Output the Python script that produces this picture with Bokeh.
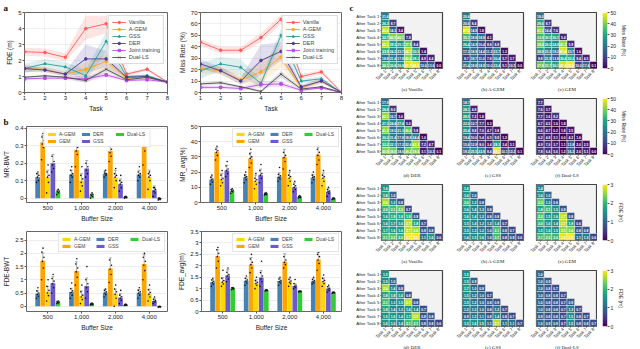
import math
import numpy as np
from bokeh.plotting import figure
from bokeh.layouts import row, column
from bokeh.models import (ColumnDataSource, Whisker, TeeHead, Legend, LegendItem,
                          FixedTicker, Range1d, FactorRange, LinearColorMapper)
from bokeh.core.properties import value
from bokeh.transform import dodge
from bokeh.palettes import Viridis256
from bokeh.embed import file_html
from bokeh.resources import INLINE

SANS = "Liberation Sans"
SERIF = "Liberation Serif"

# ---------------- panel a data ----------------
tasks = [1, 2, 3, 4, 5, 6, 7, 8]
a_methods = ["Vanilla", "A-GEM", "GSS", "DER", "Joint training", "Dual-LS"]
a_colors = ["#ff5a5a", "#ffa31a", "#2a9d96", "#463a9a", "#b84de8", "#4d4d4d"]
a_markers = ["circle", "circle", "triangle", "circle", "square", "x"]

fde_mean = {
    "Vanilla": [2.55, 2.5, 2.2, 4.0, 4.3, 1.15, 1.45, 0.65],
    "A-GEM": [1.5, 1.45, 1.15, 1.45, 1.95, 0.9, 0.95, 0.65],
    "GSS": [1.5, 1.8, 1.6, 1.05, 3.2, 1.0, 1.05, 0.65],
    "DER": [1.5, 1.4, 1.15, 2.1, 2.1, 0.95, 1.0, 0.65],
    "Joint training": [0.85, 0.9, 0.9, 0.85, 1.1, 0.75, 0.8, 0.65],
    "Dual-LS": [0.95, 1.05, 0.95, 0.75, 1.45, 0.8, 0.95, 0.65],
}
fde_lo = {
    "Vanilla": [2.3, 2.25, 1.95, 3.3, 3.7, 1.05, 1.35, 0.6],
    "A-GEM": [1.3, 1.3, 1.0, 1.0, 1.5, 0.8, 0.85, 0.6],
    "GSS": [1.2, 1.5, 1.3, 0.7, 2.6, 0.9, 0.95, 0.6],
    "DER": [1.3, 1.25, 1.0, 1.2, 1.6, 0.85, 0.9, 0.6],
    "Joint training": [0.75, 0.8, 0.8, 0.65, 0.95, 0.7, 0.7, 0.6],
    "Dual-LS": [0.9, 1.0, 0.9, 0.6, 1.3, 0.75, 0.9, 0.6],
}
fde_hi = {
    "Vanilla": [2.8, 2.75, 2.45, 4.8, 4.8, 1.25, 1.55, 0.7],
    "A-GEM": [1.7, 1.6, 1.3, 1.9, 2.4, 1.0, 1.05, 0.7],
    "GSS": [1.8, 2.1, 1.9, 1.4, 3.8, 1.1, 1.15, 0.7],
    "DER": [1.7, 1.55, 1.3, 3.0, 2.6, 1.05, 1.1, 0.7],
    "Joint training": [0.95, 1.0, 1.0, 1.05, 1.25, 0.8, 0.9, 0.7],
    "Dual-LS": [1.0, 1.1, 1.0, 0.9, 1.6, 0.85, 1.0, 0.7],
}
mr_mean = {
    "Vanilla": [44, 37, 37, 48, 64, 14, 18, 0.3],
    "A-GEM": [21, 19, 11, 18, 31, 4, 10, 0],
    "GSS": [19, 25, 22, 8, 50, 10, 12, 0],
    "DER": [25, 19, 10, 28, 36, 5, 10, 0],
    "Joint training": [4.5, 4.5, 3.5, 7, 7.5, 2, 4, 0],
    "Dual-LS": [7.5, 8.5, 5, 1, 16, 3, 5, 0],
}
mr_lo = {
    "Vanilla": [41, 34, 34, 44, 60, 12, 16, 0],
    "A-GEM": [17, 16, 7, 8, 22, 2, 8, 0],
    "GSS": [12, 19, 15, 4, 44, 8, 10, 0],
    "DER": [21, 16, 7, 15, 28, 3, 8, 0],
    "Joint training": [3, 3, 2, 4, 5, 1, 3, 0],
    "Dual-LS": [6, 7, 4, 0, 13, 2, 4, 0],
}
mr_hi = {
    "Vanilla": [47, 40, 40, 52, 68, 16, 20, 0.6],
    "A-GEM": [25, 22, 15, 28, 40, 6, 12, 0.5],
    "GSS": [26, 31, 29, 12, 56, 12, 14, 0.5],
    "DER": [29, 22, 13, 42, 44, 7, 12, 0.5],
    "Joint training": [6, 6, 5, 10, 10, 3, 5, 0.5],
    "Dual-LS": [9, 10, 6, 2, 19, 4, 6, 0.5],
}

# ---------------- panel b data ----------------
buffers = ["500", "1,000", "2,000", "4,000"]
b_methods = ["DER", "GEM", "A-GEM", "GSS", "Dual-LS"]
b_colors = {"DER": "#4682b4", "GEM": "#ffa500", "A-GEM": "#ffd700", "GSS": "#6a5acd", "Dual-LS": "#32cd32"}
legend_order = ["A-GEM", "GEM", "DER", "GSS", "Dual-LS"]

mrbwt_mean = {"DER": [0.12, 0.135, 0.14, 0.135], "GEM": [0.32, 0.275, 0.27, 0.305],
              "A-GEM": [0.12, 0.10, 0.12, 0.12], "GSS": [0.20, 0.17, 0.08, 0.045],
              "Dual-LS": [0.035, 0.015, 0.005, -0.005]}
mrbwt_sd = {"DER": [0.02, 0.025, 0.02, 0.025], "GEM": [0.04, 0.045, 0.055, 0.06],
            "A-GEM": [0.04, 0.04, 0.04, 0.04], "GSS": [0.05, 0.045, 0.03, 0.025],
            "Dual-LS": [0.012, 0.01, 0.005, 0.005]}
mrbwt_runs = {
    "DER": [[0.09, 0.10, 0.12, 0.13, 0.14, 0.15], [0.09, 0.12, 0.13, 0.14, 0.16, 0.18],
            [0.12, 0.13, 0.14, 0.14, 0.15, 0.16], [0.10, 0.12, 0.13, 0.14, 0.15, 0.18]],
    "GEM": [[0.22, 0.29, 0.31, 0.33, 0.35, 0.37], [0.18, 0.25, 0.27, 0.29, 0.31, 0.33],
            [0.21, 0.24, 0.26, 0.28, 0.30, 0.33], [0.19, 0.27, 0.30, 0.32, 0.35, 0.39]],
    "A-GEM": [[0.03, 0.09, 0.12, 0.13, 0.15, 0.19], [0.04, 0.07, 0.09, 0.11, 0.13, 0.18],
              [0.06, 0.10, 0.12, 0.13, 0.14, 0.17], [0.05, 0.10, 0.12, 0.13, 0.14, 0.15]],
    "GSS": [[0.15, 0.17, 0.19, 0.21, 0.24, 0.31], [0.12, 0.14, 0.16, 0.18, 0.20, 0.31],
            [0.04, 0.06, 0.08, 0.09, 0.10, 0.13], [0.01, 0.03, 0.04, 0.05, 0.06, 0.06]],
    "Dual-LS": [[0.02, 0.03, 0.035, 0.04, 0.04, 0.05], [0.0, 0.01, 0.015, 0.02, 0.02, 0.03],
                [0.0, 0.003, 0.005, 0.006, 0.008, 0.01], [-0.01, -0.008, -0.005, -0.004, 0.0, 0.0]],
}
mravg_mean = {"DER": [15, 16.5, 17, 16.5], "GEM": [33, 29, 30, 31.5],
              "A-GEM": [15.5, 14, 16, 16], "GSS": [21, 18, 10, 7],
              "Dual-LS": [7.5, 5.5, 3.5, 2.5]}
mravg_sd = {"DER": [2, 2, 2.5, 2], "GEM": [3, 4, 5, 5], "A-GEM": [3.5, 4, 4, 3.5],
            "GSS": [3.5, 4, 3, 2.5], "Dual-LS": [1, 0.7, 0.5, 0.5]}
mravg_runs = {
    "DER": [[12, 13.5, 15, 15.5, 16.5, 18], [13, 15, 16.5, 17, 18, 20],
            [14, 15.5, 16.5, 17.5, 18.5, 23], [13, 15, 16.5, 17, 18, 20]],
    "GEM": [[28, 31, 33, 34, 35, 37], [23, 26, 29, 30, 32, 35],
            [22, 27, 29.5, 31, 33, 37], [25, 28, 31, 33, 35, 38]],
    "A-GEM": [[11, 13, 15, 16, 18, 21], [9, 12, 14, 15, 16, 19],
              [11, 14, 16, 17, 18, 21], [11, 14, 16, 17, 18, 21]],
    "GSS": [[17, 19, 21, 22, 24, 27], [13, 16, 18, 19, 21, 25],
            [7, 8.5, 10, 11, 12, 14], [4, 6, 7, 7.5, 8.5, 10]],
    "Dual-LS": [[6, 7, 7.5, 8, 8.5, 9], [5, 5.2, 5.5, 5.7, 6, 6.5],
                [3, 3.2, 3.5, 3.7, 4, 4.5], [2, 2.3, 2.5, 2.6, 2.8, 3]],
}
fdebwt_mean = {"DER": [0.47, 0.54, 0.52, 0.51], "GEM": [1.72, 1.33, 1.43, 1.60],
               "A-GEM": [0.55, 0.38, 0.47, 0.47], "GSS": [0.87, 0.77, 0.32, 0.20],
               "Dual-LS": [0.15, 0.08, 0.05, -0.02]}
fdebwt_sd = {"DER": [0.12, 0.14, 0.12, 0.12], "GEM": [0.3, 0.35, 0.4, 0.35],
             "A-GEM": [0.2, 0.2, 0.18, 0.18], "GSS": [0.25, 0.3, 0.15, 0.1],
             "Dual-LS": [0.04, 0.03, 0.02, 0.02]}
fdebwt_runs = {
    "DER": [[0.30, 0.38, 0.45, 0.50, 0.58, 0.70], [0.30, 0.42, 0.52, 0.58, 0.66, 0.88],
            [0.35, 0.44, 0.50, 0.55, 0.60, 0.65], [0.30, 0.42, 0.50, 0.55, 0.60, 0.70]],
    "GEM": [[1.00, 1.45, 1.70, 1.85, 2.05, 2.20], [0.80, 1.10, 1.30, 1.45, 1.60, 1.80],
            [0.90, 1.20, 1.40, 1.55, 1.75, 2.10], [1.00, 1.35, 1.55, 1.70, 1.85, 2.00]],
    "A-GEM": [[0.20, 0.40, 0.50, 0.60, 0.75, 1.00], [0.10, 0.25, 0.35, 0.42, 0.55, 0.80],
              [0.00, 0.30, 0.45, 0.55, 0.65, 0.80], [0.20, 0.35, 0.45, 0.52, 0.62, 0.80]],
    "GSS": [[0.50, 0.70, 0.85, 0.95, 1.05, 1.20], [0.30, 0.55, 0.70, 0.85, 1.00, 1.50],
            [0.10, 0.22, 0.30, 0.36, 0.42, 0.60], [0.10, 0.15, 0.18, 0.22, 0.26, 0.35]],
    "Dual-LS": [[0.10, 0.12, 0.14, 0.16, 0.18, 0.20], [0.05, 0.06, 0.08, 0.09, 0.10, 0.12],
                [0.03, 0.04, 0.05, 0.05, 0.06, 0.08], [-0.04, -0.03, -0.02, -0.02, -0.01, 0.0]],
}
fdeavg_mean = {"DER": [1.28, 1.34, 1.33, 1.32], "GEM": [2.42, 2.06, 2.18, 2.28],
               "A-GEM": [1.30, 1.24, 1.30, 1.32], "GSS": [1.58, 1.49, 1.12, 0.99],
               "Dual-LS": [1.01, 0.92, 0.87, 0.82]}
fdeavg_sd = {"DER": [0.12, 0.12, 0.12, 0.12], "GEM": [0.28, 0.3, 0.35, 0.3],
             "A-GEM": [0.18, 0.15, 0.15, 0.15], "GSS": [0.25, 0.3, 0.1, 0.1],
             "Dual-LS": [0.04, 0.03, 0.03, 0.03]}
fdeavg_runs = {
    "DER": [[1.10, 1.20, 1.26, 1.32, 1.38, 1.45], [1.15, 1.25, 1.32, 1.38, 1.45, 1.55],
            [1.15, 1.25, 1.30, 1.36, 1.42, 1.50], [1.20, 1.25, 1.30, 1.35, 1.40, 1.50]],
    "GEM": [[1.90, 2.20, 2.40, 2.55, 2.70, 2.80], [1.70, 1.90, 2.05, 2.15, 2.30, 2.50],
            [1.90, 2.05, 2.15, 2.25, 2.40, 2.70], [1.80, 2.10, 2.25, 2.40, 2.50, 2.60]],
    "A-GEM": [[1.10, 1.20, 1.28, 1.35, 1.45, 1.80], [1.00, 1.15, 1.22, 1.28, 1.35, 1.50],
              [1.10, 1.22, 1.28, 1.33, 1.40, 1.50], [1.10, 1.22, 1.30, 1.36, 1.45, 1.60]],
    "GSS": [[1.30, 1.42, 1.55, 1.62, 1.72, 1.90], [1.10, 1.30, 1.42, 1.55, 1.70, 2.20],
            [1.00, 1.05, 1.10, 1.15, 1.22, 1.40], [0.85, 0.92, 0.98, 1.02, 1.08, 1.15]],
    "Dual-LS": [[0.95, 0.98, 1.00, 1.02, 1.04, 1.05], [0.90, 0.91, 0.92, 0.93, 0.94, 0.95],
                [0.85, 0.86, 0.87, 0.88, 0.89, 0.90], [0.80, 0.81, 0.82, 0.83, 0.84, 0.85]],
}

# ---------------- panel c data ----------------
task_labels = ["Task %d" % i for i in range(1, 9)]
after_labels = ["After Task %d" % i for i in range(1, 9)]

mr_vanilla = [[21.6], [26.3, 8.7], [45.4, 14.3, 3.4], [32.7, 40.5, 40.1, 7.9],
              [45.1, 29.3, 25.1, 37.5, 8.4], [33.9, 24.2, 23.7, 44.7, 30.3, 1.4],
              [18.8, 21.4, 17.8, 40.4, 28.1, 4.9, 4.4], [36.1, 30.8, 26.8, 47.7, 48.3, 13.6, 13.6, 0.0]]
mr_agem = [[20.6], [20.6, 8.4], [47.5, 14.8, 1.8], [35.1, 18.8, 18.8, 4.1],
           [26.4, 14.9, 10.4, 8.8, 8.8], [17.3, 18.9, 14.4, 11.2, 23.7, 1.3],
           [8.7, 18.7, 11.0, 7.8, 20.4, 5.7, 3.7], [21.4, 18.8, 18.8, 10.0, 22.4, 5.1, 10.5, 0.0]]
mr_gem = [[18.0], [29.6, 8.7], [41.3, 14.4, 7.6], [33.9, 30.5, 30.1, 5.4],
          [38.4, 26.0, 24.8, 41.3, 5.9], [28.8, 23.2, 19.2, 47.4, 23.7, 1.6],
          [9.8, 21.9, 13.8, 30.4, 30.2, 9.4, 4.5], [37.8, 33.7, 30.1, 47.4, 50.0, 10.0, 17.4, 0.1]]
mr_der = [[17.9], [28.8, 8.0], [42.1, 16.7, 3.0], [27.3, 24.4, 27.4, 5.0],
          [41.3, 18.5, 21.3, 36.6, 5.8], [30.2, 21.4, 17.8, 18.8, 24.4, 1.0],
          [33.2, 22.1, 17.2, 22.4, 42.3, 7.2, 4.7], [40.9, 38.8, 18.6, 38.2, 39.4, 3.1, 10.3, 0.1]]
mr_gss = [[18.7], [28.1, 4.8], [28.5, 7.2, 1.8], [22.0, 12.7, 7.7, 0.3],
          [25.4, 9.8, 7.0, 4.7, 3.8], [19.4, 10.0, 5.4, 6.5, 9.8, 1.2],
          [15.6, 12.9, 8.0, 3.4, 28.3, 3.4, 3.1], [19.2, 25.5, 22.8, 8.4, 49.1, 10.1, 12.2, 0.1]]
mr_duals = [[7.7], [7.6, 3.7], [7.7, 3.6, 8.2], [6.7, 4.5, 1.6, 1.8],
            [6.6, 4.7, 0.2, 1.8, 3.5], [6.2, 4.8, 3.1, 0.0, 4.2, 1.6],
            [4.9, 7.0, 3.7, 1.1, 13.8, 2.0, 2.5], [7.8, 6.4, 5.6, 1.2, 16.2, 2.6, 5.1, 0.0]]

fde_vanilla = [[1.6], [1.8, 1.0], [2.6, 1.3, 0.8], [2.0, 2.1, 2.3, 0.7],
               [1.6, 1.9, 1.8, 1.9, 0.8], [1.6, 1.7, 1.6, 2.7, 1.8, 0.7],
               [1.7, 1.6, 1.6, 2.7, 2.6, 0.8, 0.8], [2.1, 2.2, 2.0, 3.1, 3.2, 1.1, 1.6, 0.6]]
fde_agem = [[1.6], [1.6, 1.0], [2.0, 1.3, 0.8], [1.6, 1.4, 1.3, 0.8],
            [1.6, 1.4, 1.2, 0.8, 0.8], [1.5, 1.4, 1.2, 1.2, 1.4, 0.7],
            [1.5, 1.3, 1.2, 1.0, 2.1, 0.8, 0.7], [1.4, 1.5, 1.6, 1.0, 2.1, 0.8, 0.9, 0.6]]
fde_gem = [[1.4], [1.6, 1.0], [2.3, 1.3, 0.8], [1.8, 2.1, 1.5, 0.8],
           [2.2, 1.5, 1.6, 2.7, 0.8], [2.0, 1.6, 1.4, 2.7, 1.8, 0.6],
           [1.5, 1.6, 1.5, 2.5, 2.4, 0.8, 0.8], [2.1, 2.2, 2.0, 2.9, 3.2, 1.1, 1.3, 0.6]]
fde_der = [[1.5], [1.5, 1.0], [2.6, 1.4, 0.8], [1.8, 1.8, 1.6, 0.8],
           [2.1, 1.3, 1.5, 2.7, 0.8], [1.8, 1.4, 1.3, 1.6, 1.4, 0.7],
           [1.5, 1.6, 1.4, 1.7, 2.7, 0.8, 0.8], [1.6, 1.6, 1.4, 2.1, 2.1, 0.8, 0.8, 0.6]]
fde_gss = [[1.5], [1.5, 0.9], [1.7, 1.0, 0.8], [1.5, 1.2, 1.0, 0.7],
           [1.5, 1.2, 1.0, 0.8, 0.8], [1.2, 1.2, 1.0, 0.8, 1.2, 0.7],
           [0.9, 1.2, 1.1, 0.8, 1.4, 0.8, 0.7], [1.5, 1.6, 1.5, 1.1, 2.7, 1.1, 1.1, 0.7]]
fde_duals = [[1.0], [1.0, 0.9], [1.0, 0.8, 0.7], [1.0, 0.8, 0.8, 0.7],
             [1.0, 0.8, 0.8, 0.7, 0.9], [1.0, 0.8, 0.8, 0.7, 1.3, 0.7],
             [0.9, 0.8, 0.8, 0.7, 1.5, 0.8, 0.7], [1.0, 0.9, 0.9, 0.7, 1.5, 0.8, 0.8, 0.7]]

heat_rows = [
    ([mr_vanilla, mr_agem, mr_gem], ["(a) Vanilla", "(b) A-GEM", "(c) GEM"], 50, [0, 10, 20, 30, 40, 50], "Miss Rate (%)"),
    ([mr_der, mr_gss, mr_duals], ["(d) DER", "(e) GSS", "(f) Dual-LS"], 50, [0, 10, 20, 30, 40, 50], "Miss Rate (%)"),
    ([fde_vanilla, fde_agem, fde_gem], ["(a) Vanilla", "(b) A-GEM", "(c) GEM"], 3, [0, 1, 2, 3], "FDE (m)"),
    ([fde_der, fde_gss, fde_duals], ["(d) DER", "(e) GSS", "(f) Dual-LS"], 3, [0, 1, 2, 3], "FDE (m)"),
]

JIT = [-0.035, 0.02, -0.01, 0.035, -0.025, 0.008]


def style(p, tick_fs="6px", label_fs="6.5px", tick_out=2):
    for ax in list(p.xaxis) + list(p.yaxis):
        ax.major_label_text_font = SANS
        ax.major_label_text_font_size = tick_fs
        ax.major_label_text_color = "#222"
        ax.axis_label_text_font = SANS
        ax.axis_label_text_font_size = label_fs
        ax.axis_label_text_font_style = "normal"
        ax.axis_label_text_color = "#222"
        ax.axis_line_color = None
        ax.major_tick_line_color = "#555"
        ax.major_tick_out = tick_out
        ax.major_tick_in = 0
        ax.minor_tick_line_color = None
        ax.axis_label_standoff = 2
        ax.major_label_standoff = 1
    p.outline_line_color = "#666"
    p.outline_line_width = 1


def panel_title(p, txt, offset):
    t = p.title
    t.text = txt
    t.align = "left"
    t.offset = offset
    t.standoff = 0
    t.text_font = SERIF
    t.text_font_size = "9px"
    t.text_font_style = "bold"
    t.text_color = "#111"


def line_panel(mean, lo, hi, yr, yticks, ylabel, w, h, lb, rb, tb):
    p = figure(width=w, height=h, x_range=Range1d(1, 8), y_range=Range1d(*yr),
               output_backend="svg", toolbar_location=None,
               min_border_left=lb, min_border_right=rb, min_border_top=tb, min_border_bottom=14)
    for m, c in zip(a_methods, a_colors):
        src = ColumnDataSource(dict(x=tasks, lo=lo[m], hi=hi[m]))
        p.varea(x="x", y1="lo", y2="hi", source=src, fill_color=c, fill_alpha=0.16)
    items = []
    for m, c, mk in zip(a_methods, a_colors, a_markers):
        src = ColumnDataSource(dict(x=tasks, y=mean[m]))
        l = p.line("x", "y", source=src, line_color=c, line_width=0.9)
        s = p.scatter("x", "y", source=src, marker=mk, size=2.6, fill_color=c, line_color=c)
        items.append(LegendItem(label=m, renderers=[l, s]))
    leg = Legend(items=items, location="top_right", label_text_font=SANS,
                 label_text_font_size="5.5px", glyph_width=14, glyph_height=6,
                 label_height=6, spacing=1, padding=3, margin=3, label_standoff=3,
                 border_line_color="#bbb", background_fill_alpha=0.9)
    p.add_layout(leg)
    p.xaxis.ticker = FixedTicker(ticks=tasks)
    p.yaxis.ticker = FixedTicker(ticks=yticks)
    p.xaxis.axis_label = "Task"
    p.yaxis.axis_label = ylabel
    p.grid.grid_line_color = "#e6e6e6"
    p.grid.grid_line_width = 0.6
    style(p)
    return p


def bar_panel(mean, sd, runs, yr, yticks, ylabel, w, h, lb, rb, tb, bb, legloc):
    p = figure(width=w, height=h, x_range=Range1d(-0.63, 3.54), y_range=Range1d(*yr),
               output_backend="svg", toolbar_location=None,
               min_border_left=lb, min_border_right=rb, min_border_top=tb, min_border_bottom=bb)
    offsets = dict(zip(b_methods, [-0.3, -0.15, 0.0, 0.15, 0.3]))
    rends = {}
    for m in b_methods:
        mu = mean[m]
        s = sd[m]
        src = ColumnDataSource(dict(x=[0, 1, 2, 3], top=mu,
                                    lower=[a - b for a, b in zip(mu, s)],
                                    upper=[a + b for a, b in zip(mu, s)]))
        r = p.vbar(x=dodge("x", offsets[m]), top="top", bottom=0, width=0.14, source=src,
                   fill_color=b_colors[m], line_color=None)
        rends[m] = r
        dx, dy = [], []
        for g, vals in enumerate(runs[m]):
            for k, v in enumerate(vals):
                dx.append(g + JIT[k % len(JIT)])
                dy.append(v)
        dsrc = ColumnDataSource(dict(x=dx, y=dy))
        p.scatter(x=dodge("x", offsets[m]), y="y", source=dsrc, size=1.6,
                  fill_color="#111", line_color=None)
        wk = Whisker(base=dodge("x", offsets[m]), upper="upper", lower="lower", source=src,
                     line_color="#777", line_width=0.6,
                     upper_head=TeeHead(size=3, line_color="#777", line_width=0.6),
                     lower_head=TeeHead(size=3, line_color="#777", line_width=0.6))
        p.add_layout(wk)
    items = [LegendItem(label=m, renderers=[rends[m]]) for m in legend_order]
    leg = Legend(items=items, location=legloc, orientation="vertical", nrows=2,
                 label_text_font=SANS, label_text_font_size="5px", glyph_width=10,
                 glyph_height=4, label_height=4, spacing=1, padding=2, margin=2,
                 label_standoff=3, border_line_color="#ccc", background_fill_alpha=0.95)
    p.add_layout(leg)
    p.xaxis.ticker = FixedTicker(ticks=[0, 1, 2, 3])
    p.xaxis.major_label_overrides = {i: b for i, b in enumerate(buffers)}
    p.yaxis.ticker = FixedTicker(ticks=yticks)
    p.xaxis.axis_label = "Buffer Size"
    p.yaxis.axis_label = ylabel
    p.xgrid.grid_line_color = None
    p.ygrid.grid_line_color = "#e8e8e8"
    p.ygrid.grid_line_width = 0.8
    style(p)
    return p


FW, FH = 61, 56


def heat_panel(mat, caption, vmax, col, lb, rb, tb, bb):
    xs, ys, vs, ts = [], [], [], []
    for i, rowv in enumerate(mat):
        for j, v in enumerate(rowv):
            xs.append(task_labels[j])
            ys.append(after_labels[i])
            vs.append(v)
            ts.append("%.1f" % v)
    src = ColumnDataSource(dict(x=xs, y=ys, v=vs, t=ts))
    mapper = LinearColorMapper(palette=Viridis256, low=0, high=vmax)
    p = figure(frame_width=FW, frame_height=FH, x_range=FactorRange(*task_labels),
               y_range=FactorRange(*reversed(after_labels)),
               output_backend="svg", toolbar_location=None,
               min_border_left=lb, min_border_right=rb, min_border_top=tb, min_border_bottom=bb)
    p.rect(x="x", y="y", width=1, height=1, source=src,
           fill_color={"field": "v", "transform": mapper}, line_color="white", line_width=0.4)
    p.text(x="x", y="y", text="t", source=src, text_color="white", text_font=value(SANS),
           text_font_size="3.3px", text_font_style="bold", text_align="center",
           text_baseline="middle")
    p.background_fill_color = "#f2f2f2"
    p.grid.grid_line_color = None
    style(p, tick_fs="4.4px", label_fs="5px", tick_out=1)
    p.xaxis.major_label_orientation = math.pi / 4
    p.xaxis.axis_label = caption
    p.xaxis.axis_label_text_font = SERIF
    p.xaxis.axis_label_standoff = 1
    p.outline_line_color = "#444"
    p.outline_line_width = 1.2
    if col != 0:
        p.yaxis.visible = False
    return p, mapper


def colorbar_panel(mapper, vmax, ticks, label, tb, bb):
    p = figure(frame_width=5, frame_height=FH, x_range=Range1d(0, 1), y_range=Range1d(0, vmax),
               y_axis_location="right", output_backend="svg", toolbar_location=None,
               min_border_left=5, min_border_right=2, min_border_top=tb, min_border_bottom=bb)
    grad = np.linspace(0, vmax, 256).reshape(256, 1)
    p.image(image=[grad], x=0, y=0, dw=1, dh=vmax, color_mapper=mapper)
    p.xaxis.visible = False
    p.grid.grid_line_color = None
    p.yaxis.ticker = FixedTicker(ticks=ticks)
    p.yaxis.axis_label = label
    style(p, tick_fs="5px", label_fs="5px")
    p.outline_line_color = None
    return p


# ---------------- build ----------------
a1 = line_panel(fde_mean, fde_lo, fde_hi, (0, 5), [0, 1, 2, 3, 4, 5], "FDE (m)", 175, 114, 24, 8, 11)
a2 = line_panel(mr_mean, mr_lo, mr_hi, (0, 70), [0, 10, 20, 30, 40, 50, 60, 70], "Miss Rate (%)", 173, 114, 20, 7, 11)
panel_title(a1, "a", -21)

b1 = bar_panel(mrbwt_mean, mrbwt_sd, mrbwt_runs, (-0.025, 0.41), [0.0, 0.1, 0.2, 0.3, 0.4], "MR-BWT",
               175, 110, 25, 8, 11, 14, "top_center")
b2 = bar_panel(mravg_mean, mravg_sd, mravg_runs, (0, 50), [0, 10, 20, 30, 40, 50], "MR_avg(%)",
               173, 110, 20, 7, 11, 14, "top_right")
b3 = bar_panel(fdebwt_mean, fdebwt_sd, fdebwt_runs, (-0.2, 2.83), [0.0, 0.5, 1.0, 1.5, 2.0, 2.5], "FDE-BWT",
               175, 109, 25, 8, 7, 17, "top_right")
b4 = bar_panel(fdeavg_mean, fdeavg_sd, fdeavg_runs, (0, 3.5), [0.0, 0.5, 1.0, 1.5, 2.0, 2.5, 3.0, 3.5], "FDE_avg(m)",
               173, 109, 20, 7, 7, 17, "top_right")
panel_title(b1, "b", -23)

left = column(row(a1, a2), row(b1, b2), row(b3, b4))

tops = [11, 3, 3, 3]
bottoms = [22, 22, 22, 23]
borders = [(33, 7), (13, 4), (9, 0)]
right_rows = []
for r, (mats, caps, vmax, ticks, cblabel) in enumerate(heat_rows):
    figs = []
    mapper = None
    for c, (mat, cap) in enumerate(zip(mats, caps)):
        lb, rb = borders[c]
        f, mapper = heat_panel(mat, cap, vmax, c, lb, rb, tops[r], bottoms[r])
        figs.append(f)
    cb = colorbar_panel(mapper, vmax, ticks, cblabel, tops[r], bottoms[r])
    if r == 0:
        panel_title(figs[0], "c", -32)
    right_rows.append(row(*figs, cb))
right = column(*right_rows)

layout = row(left, right)
open("out.html", "w").write(file_html(layout, INLINE))
